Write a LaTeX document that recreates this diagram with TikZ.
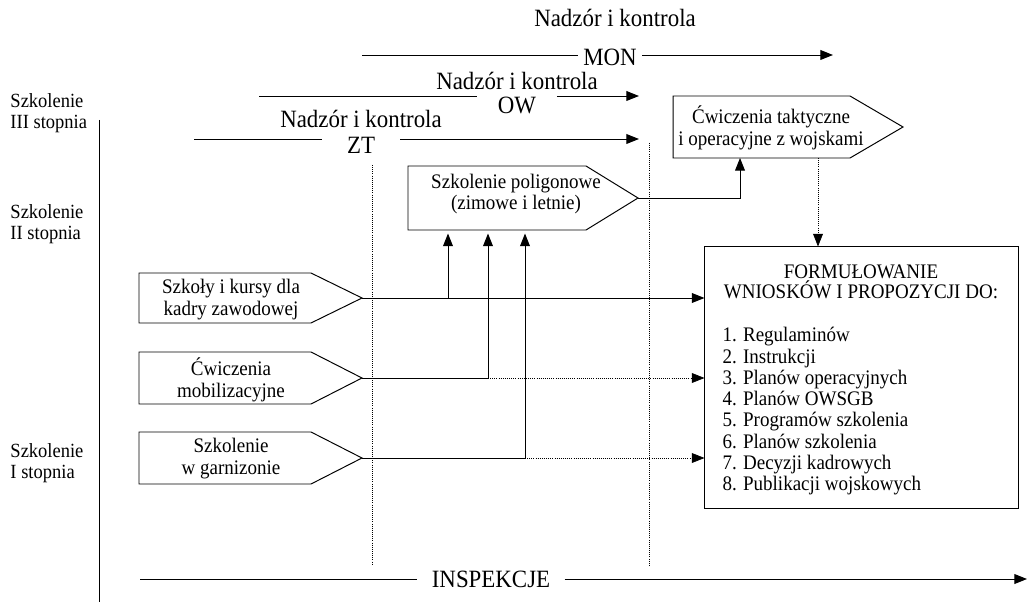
\documentclass[tikz,border=0pt]{standalone}
\usepackage{fontspec}
\setmainfont[FakeStretch=0.92]{Liberation Serif}
\usetikzlibrary{arrows.meta,positioning}

\begin{document}
\begin{tikzpicture}[x=0.025cm,y=-0.025cm,line width=0.7pt,
  arr/.style={-{Triangle[length=9pt,width=7pt]}},
  dots/.style={densely dotted,line width=0.5pt},
  lbl/.style={font=\fontsize{17.7}{18}\selectfont,inner sep=0pt},
  txt/.style={font=\fontsize{14.7}{15.6}\selectfont,align=center,inner sep=0pt},
  lvl/.style={font=\fontsize{14.3}{15}\selectfont,align=left,inner sep=0pt,anchor=west}]
 \useasboundingbox (0,0) rectangle (1030,602);

    %Levels
    \node[lvl] (l3) at (10,113) {Szkolenie\\III stopnia};
    \node[lvl] (l2) at (10,224) {Szkolenie\\II stopnia};
    \node[lvl] (l1) at (10,463) {Szkolenie\\I stopnia};
    \draw (99,120) -- (99,602);

    % Nadzor i kontrola
    \node[lbl,anchor=base] (top) at (615,27) {Nadzór i kontrola};
    \coordinate (MONa) at (362,55);
    \coordinate (MONb) at (833,55);
    \node[lbl,inner xsep=3.5pt] (MON) at (610,57) {MON};
    \draw (MONa) -- (MONa -| MON.west);
    \draw[arr] (MON.east |- MONb) -- (MONb);

    \coordinate (OWa) at (259,96);
    \coordinate (OWb) at (639,96);
    \node[lbl,inner xsep=14.5pt] (OW) at (517,105) {OW};
    \node[lbl,anchor=base] (OWn) at (517,90) {Nadzór i kontrola};
    \draw (OWa) -- (OWa -| OW.west);
    \draw[arr] (OW.east |- OWb) -- (OWb);

    \coordinate (ZTa) at (194,139);
    \coordinate (ZTb) at (639,139);
    \node[lbl,inner xsep=17.5pt] (ZT) at (361,145) {ZT};
    \node[lbl,anchor=base] (ZTn) at (361,128) {Nadzór i kontrola};
    \draw (ZTa) -- (ZTa -| ZT.west);
    \draw[arr] (ZT.east |- ZTb) -- (ZTb);

    \draw[dots] (372,165) -- (372,565);
    \draw[dots] (649,143) -- (649,565);

    % Boxes
    \draw (139,273) -- (311,273) -- (362,298) -- (311,323) -- (139,323) -- cycle;
    \coordinate (szkT) at (362,298);
    \node[txt] (szk) at (231,300) {Szkoły i kursy dla\\kadry zawodowej};
    \draw (139,352) -- (311,352) -- (362,378) -- (311,404) -- (139,404) -- cycle;
    \coordinate (cwmT) at (362,378);
    \node[txt] (cwm) at (231,380) {Ćwiczenia\\mobilizacyjne};
    \draw (139,432) -- (311,432) -- (362,458) -- (311,484) -- (139,484) -- cycle;
    \coordinate (garT) at (362,458);
    \node[txt] (gar) at (231,459) {Szkolenie\\w garnizonie};
    \draw (408,166) -- (586,166) -- (638,198) -- (586,230) -- (408,230) -- cycle;
    \coordinate (polT) at (638,198);
    \coordinate (polS) at (497,230);
    \node[txt] (pol) at (516,194) {Szkolenie poligonowe\\(zimowe i letnie)};
    \draw (673,96) -- (850,96) -- (903,127) -- (850,158) -- (673,158) -- cycle;
    \coordinate (taktS) at (740,158);
    \coordinate (taktD) at (818,158);
    \node[txt] (takt) at (771,128) {Ćwiczenia taktyczne\\i operacyjne z wojskami};

    \node[draw,minimum width=7.825cm,minimum height=6.525cm,inner sep=0pt] (wn) at (861.5,377.5) {};
    \node[txt,anchor=north,font=\fontsize{14.7}{14.2}\selectfont] (wnt) at (861,264) {FORMUŁOWANIE\\WNIOSKÓW I PROPOZYCJI DO:};
    \node[txt,align=left,anchor=north west,font=\fontsize{14.7}{15.1}\selectfont] (wnl) at (722,327) {1. Regulaminów\\2. Instrukcji\\3. Planów operacyjnych\\4. Planów OWSGB\\5. Programów szkolenia\\6. Planów szkolenia\\7. Decyzji kadrowych\\8. Publikacji wojskowych};

    % Arrows
    \coordinate (j1) at (448,298);
    \coordinate (j2) at (488,378);
    \coordinate (j3) at (525,458);
    \draw[arr] (szkT) -- (wn.west |- szkT);
    \draw (cwmT) -- (j2);
    \draw[dots,arr] (j2) -- (wn.west |- j2);
    \draw (garT) -- (j3);
    \draw[dots,arr] (j3) -- (wn.west |- j3);
    \draw[arr,shorten >=2.5pt] (j1) -- (j1 |- polS);
    \draw[arr,shorten >=2.5pt] (j2) -- (j2 |- polS);
    \draw[arr,shorten >=2.5pt] (j3) -- (j3 |- polS);
    \draw[arr] (polT) -| (taktS);
    \draw[dots,arr] (taktD) -- (taktD |- wn.north);

    \coordinate (INa) at (140,579);
    \coordinate (INb) at (1027,579);
    \node[lbl,inner xsep=10pt] (insp) at (491,579) {INSPEKCJE};
    \draw (INa) -- (INa -| insp.west);
    \draw[arr] (insp.east |- INb) -- (INb);
\end{tikzpicture}
\end{document}
